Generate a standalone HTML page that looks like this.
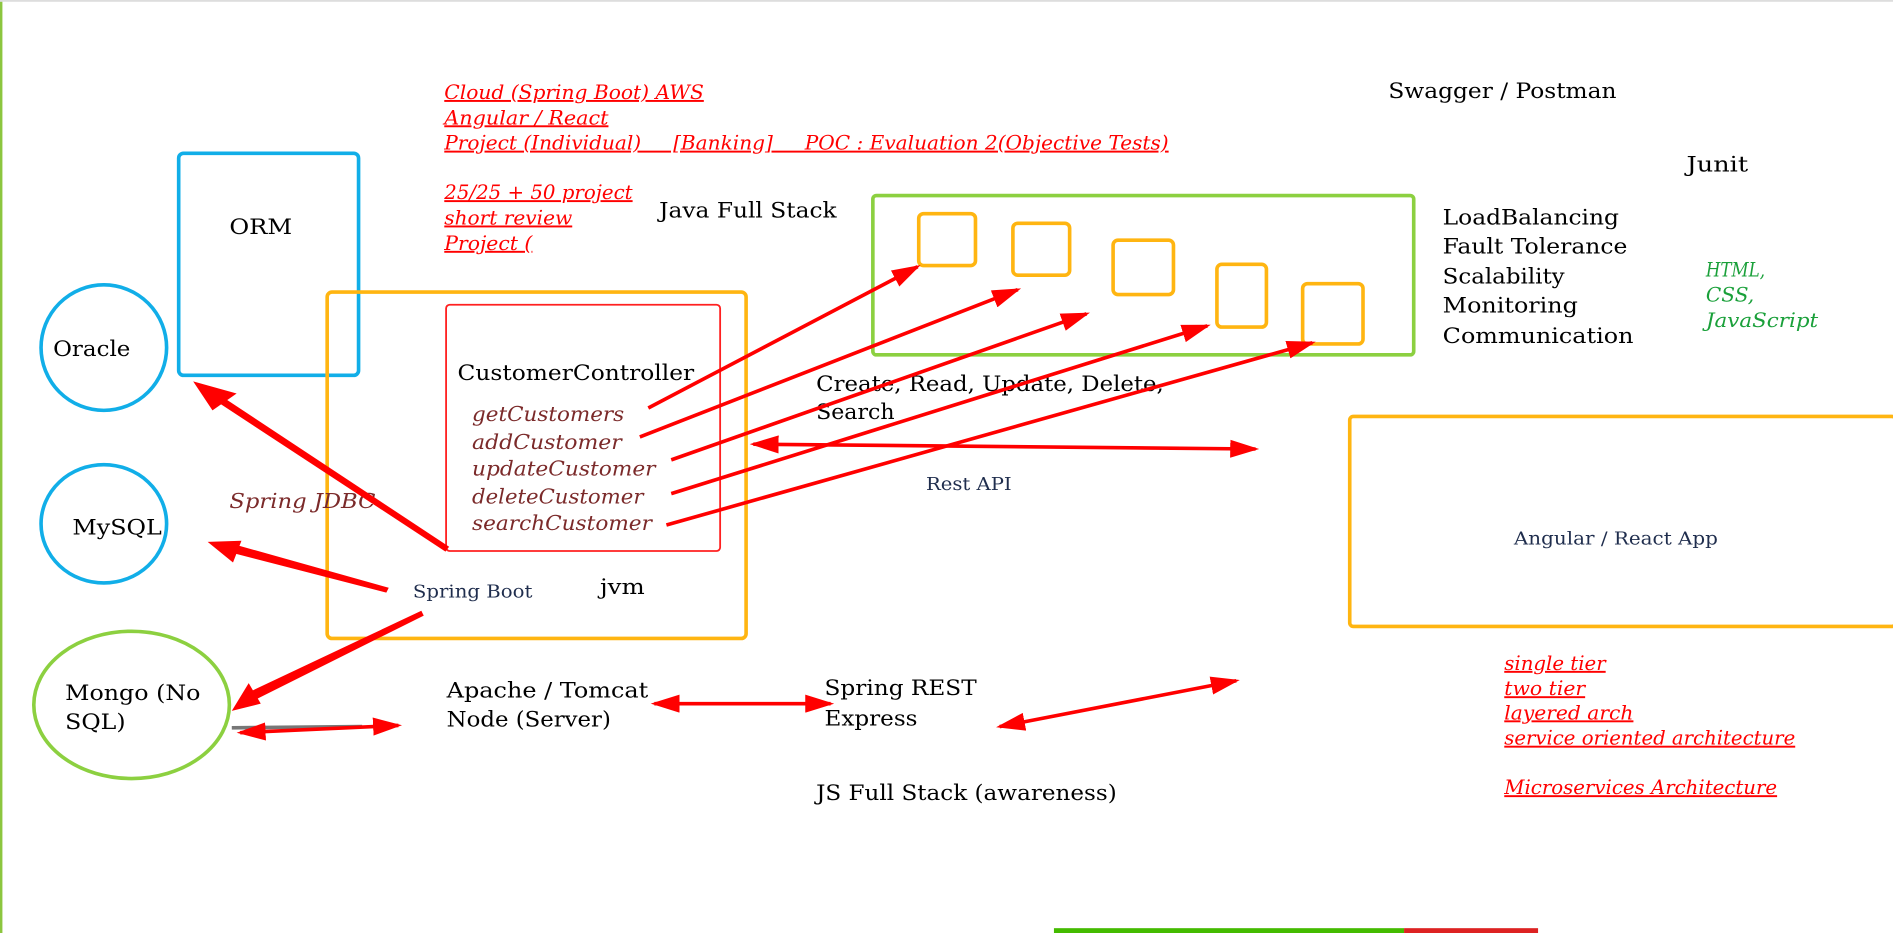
<!DOCTYPE html>
<html><head><meta charset="utf-8"><style>
html,body{margin:0;padding:0;background:#fff;width:1893px;height:933px;overflow:hidden}
svg{display:block}
text{font-family:"DejaVu Serif","Liberation Serif",serif}
.k{font-size:18px;fill:#000}
.r{font-size:16px;fill:#ff0000;font-style:italic;text-decoration:underline}
.m{font-size:17px;fill:#7b2a2a;font-style:italic}
.n{font-size:15px;fill:#1f2d4d}
.g{font-size:16px;fill:#1aa03a;font-style:italic}
</style></head><body>
<svg width="1893" height="933" viewBox="0 0 1568 773" preserveAspectRatio="none" xmlns="http://www.w3.org/2000/svg">
<defs>
<marker id="a" markerWidth="8" markerHeight="5" refX="7" refY="2.5" orient="auto" markerUnits="strokeWidth"><path d="M0,0 L8,2.5 L0,5 z" fill="#ff0000"/></marker>
<marker id="b" markerWidth="8" markerHeight="5" refX="1" refY="2.5" orient="auto" markerUnits="strokeWidth"><path d="M8,0 L0,2.5 L8,5 z" fill="#ff0000"/></marker>
</defs>
<rect x="0" y="0" width="2" height="773" fill="#8cc63f"/>
<rect x="0" y="0" width="1568" height="1.5" fill="#ddd"/>
<rect x="873" y="769" width="290" height="4" fill="#44bb00"/>
<rect x="1163" y="769" width="111" height="4" fill="#dd2222"/>

<rect x="148" y="127" width="149" height="184" rx="4" fill="none" stroke="#11aee8" stroke-width="3"/>
<ellipse cx="86" cy="288" rx="52" ry="52" fill="none" stroke="#11aee8" stroke-width="3"/>
<ellipse cx="86" cy="434" rx="52" ry="49" fill="none" stroke="#11aee8" stroke-width="3"/>
<ellipse cx="109" cy="584" rx="81" ry="61" fill="none" stroke="#8cd040" stroke-width="3"/>
<rect x="271" y="242" width="347" height="287" rx="4" fill="none" stroke="#ffb511" stroke-width="3"/>
<rect x="369.5" y="252.5" width="227" height="204" rx="3" fill="none" stroke="#ff2020" stroke-width="1.5"/>
<rect x="723" y="162" width="448" height="132" rx="3" fill="none" stroke="#8cd040" stroke-width="3"/>
<g fill="none" stroke="#ffb511" stroke-width="3">
<rect x="761" y="177" width="47" height="43" rx="4"/>
<rect x="839" y="185" width="47" height="43" rx="4"/>
<rect x="922" y="199" width="50" height="45" rx="4"/>
<rect x="1008" y="219" width="41" height="52" rx="4"/>
<rect x="1079" y="235" width="50" height="50" rx="4"/>
<rect x="1118" y="345" width="452" height="174" rx="3"/>
</g>

<text class="r" x="368" y="82" textLength="215" lengthAdjust="spacingAndGlyphs">Cloud (Spring Boot) AWS</text>
<text class="r" x="368" y="103" textLength="136" lengthAdjust="spacingAndGlyphs">Angular / React</text>
<text class="r" x="368" y="124" textLength="600" lengthAdjust="spacingAndGlyphs" xml:space="preserve">Project (Individual)     [Banking]     POC : Evaluation 2(Objective Tests)</text>
<text class="r" x="368" y="165" textLength="156" lengthAdjust="spacingAndGlyphs">25/25 + 50 project</text>
<text class="r" x="368" y="186" textLength="106" lengthAdjust="spacingAndGlyphs">short review</text>
<text class="r" x="368" y="207" textLength="73" lengthAdjust="spacingAndGlyphs">Project (</text>
<text class="k" x="546" y="180" textLength="147" lengthAdjust="spacingAndGlyphs">Java Full Stack</text>
<text class="k" x="1150" y="81" textLength="189" lengthAdjust="spacingAndGlyphs">Swagger / Postman</text>
<text class="k" x="1397" y="142" textLength="51" lengthAdjust="spacingAndGlyphs">Junit</text>
<text class="k" x="1195" y="186" textLength="146" lengthAdjust="spacingAndGlyphs">LoadBalancing</text>
<text class="k" x="1195" y="210" textLength="153" lengthAdjust="spacingAndGlyphs">Fault Tolerance</text>
<text class="k" x="1195" y="235" textLength="101" lengthAdjust="spacingAndGlyphs">Scalability</text>
<text class="k" x="1195" y="259" textLength="112" lengthAdjust="spacingAndGlyphs">Monitoring</text>
<text class="k" x="1195" y="284" textLength="158" lengthAdjust="spacingAndGlyphs">Communication</text>
<text class="g" x="1413" y="229" textLength="49" lengthAdjust="spacingAndGlyphs">HTML,</text>
<text class="g" x="1413" y="250" textLength="40" lengthAdjust="spacingAndGlyphs">CSS,</text>
<text class="g" x="1413" y="271" textLength="93" lengthAdjust="spacingAndGlyphs">JavaScript</text>
<text class="k" x="190" y="194" textLength="52" lengthAdjust="spacingAndGlyphs">ORM</text>
<text class="k" x="44" y="295" textLength="64" lengthAdjust="spacingAndGlyphs">Oracle</text>
<text class="k" x="60" y="443" textLength="74" lengthAdjust="spacingAndGlyphs">MySQL</text>
<text class="k" x="54" y="580" textLength="112" lengthAdjust="spacingAndGlyphs">Mongo (No</text>
<text class="k" x="54" y="604" textLength="50" lengthAdjust="spacingAndGlyphs">SQL)</text>
<text class="k" x="379" y="315" textLength="196" lengthAdjust="spacingAndGlyphs">CustomerController</text>
<text class="m" x="391" y="349" textLength="126" lengthAdjust="spacingAndGlyphs">getCustomers</text>
<text class="m" x="391" y="372" textLength="124" lengthAdjust="spacingAndGlyphs">addCustomer</text>
<text class="m" x="391" y="394" textLength="152" lengthAdjust="spacingAndGlyphs">updateCustomer</text>
<text class="m" x="391" y="417" textLength="142" lengthAdjust="spacingAndGlyphs">deleteCustomer</text>
<text class="m" x="391" y="439" textLength="149" lengthAdjust="spacingAndGlyphs">searchCustomer</text>
<text class="m" x="190" y="421" textLength="121" lengthAdjust="spacingAndGlyphs">Spring JDBC</text>
<text class="n" x="342" y="495" textLength="99" lengthAdjust="spacingAndGlyphs">Spring Boot</text>
<text class="k" x="497" y="492" textLength="37" lengthAdjust="spacingAndGlyphs">jvm</text>
<text class="k" x="676" y="324" textLength="288" lengthAdjust="spacingAndGlyphs">Create, Read, Update, Delete,</text>
<text class="k" x="676" y="347" textLength="65" lengthAdjust="spacingAndGlyphs">Search</text>
<text class="n" x="767" y="406" textLength="71" lengthAdjust="spacingAndGlyphs">Rest API</text>
<text class="n" x="1254" y="451" textLength="169" lengthAdjust="spacingAndGlyphs">Angular / React App</text>
<text class="k" x="370" y="578" textLength="167" lengthAdjust="spacingAndGlyphs">Apache / Tomcat</text>
<text class="k" x="370" y="602" textLength="136" lengthAdjust="spacingAndGlyphs">Node (Server)</text>
<text class="k" x="683" y="576" textLength="126" lengthAdjust="spacingAndGlyphs">Spring REST</text>
<text class="k" x="683" y="601" textLength="77" lengthAdjust="spacingAndGlyphs">Express</text>
<text class="k" x="676" y="663" textLength="249" lengthAdjust="spacingAndGlyphs">JS Full Stack (awareness)</text>
<text class="r" x="1246" y="555" textLength="84" lengthAdjust="spacingAndGlyphs">single tier</text>
<text class="r" x="1246" y="576" textLength="67" lengthAdjust="spacingAndGlyphs">two tier</text>
<text class="r" x="1246" y="596" textLength="107" lengthAdjust="spacingAndGlyphs">layered arch</text>
<text class="r" x="1246" y="617" textLength="241" lengthAdjust="spacingAndGlyphs">service oriented architecture</text>
<text class="r" x="1246" y="658" textLength="226" lengthAdjust="spacingAndGlyphs">Microservices Architecture</text>

<g stroke="#ff0000" stroke-width="3" fill="none">
<line x1="537" y1="338" x2="760" y2="221" marker-end="url(#a)"/>
<line x1="530" y1="362" x2="843" y2="240" marker-end="url(#a)"/>
<line x1="556" y1="381" x2="900" y2="260" marker-end="url(#a)"/>
<line x1="556" y1="409" x2="1000" y2="270" marker-end="url(#a)"/>
<line x1="552" y1="435" x2="1087" y2="284" marker-end="url(#a)"/>
<line x1="624" y1="368" x2="1040" y2="372" marker-start="url(#b)" marker-end="url(#a)"/>
<line x1="542" y1="583" x2="688" y2="583" marker-start="url(#b)" marker-end="url(#a)"/>
<line x1="828" y1="602" x2="1024" y2="564" marker-start="url(#b)" marker-end="url(#a)"/>
</g>
<line x1="192" y1="603" x2="300" y2="602" stroke="#777" stroke-width="3"/>
<line x1="199" y1="607" x2="330" y2="601" stroke="#ff0000" stroke-width="3" marker-start="url(#b)" marker-end="url(#a)"/>
<g fill="#ff0000">
<polygon points="372,453 369,457 180,333 183,328"/>
<polygon points="160,316 196,326 176,340"/>
<polygon points="322,487 320,491 192,458 194,451"/>
<polygon points="172,449 200,448 193,466"/>
<polygon points="349,506 351,510 207,582 203,575"/>
<polygon points="192,589 206,566 216,583"/>
</g>
</svg>
</body></html>
